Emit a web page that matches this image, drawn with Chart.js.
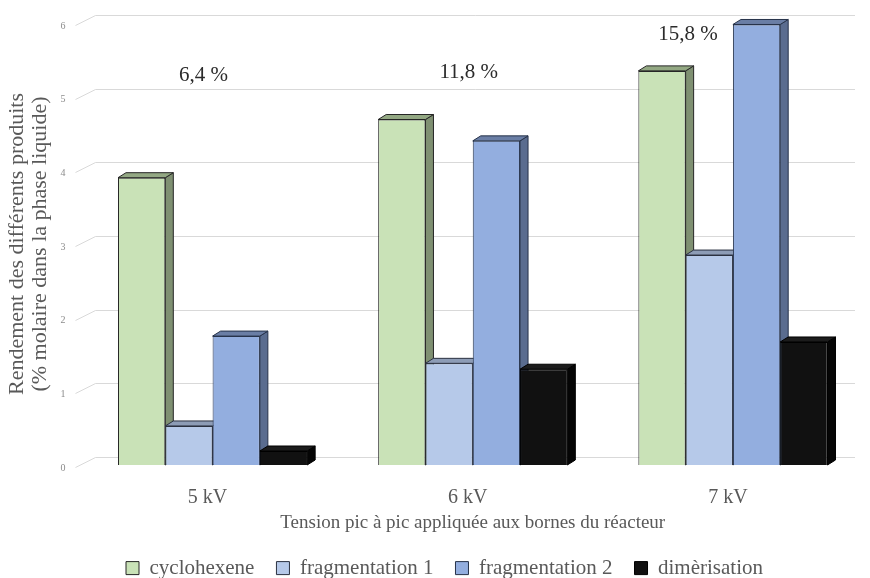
<!DOCTYPE html>
<html>
<head>
<meta charset="utf-8">
<script src="https://cdn.jsdelivr.net/npm/chart.js@4.4.1/dist/chart.umd.min.js"></script>
<style>
    html, body { margin: 0; padding: 0; background: #ffffff; }
    canvas { display: block; }
</style>
</head>
<body>
<canvas id="chartYield" width="870" height="578"></canvas>
<script>
// Yields per peak-to-peak voltage
const categories = ['5 kV', '6 kV', '7 kV'];
const cyclohexene = [3.9, 4.69, 5.35];
const fragmentation1 = [0.53, 1.38, 2.85];
const fragmentation2 = [1.75, 4.4, 5.98];
const dimerisation = [0.19, 1.3, 1.67];
// Total conversion written above each group
const conversionLabels = ['6,4 %', '11,8 %', '15,8 %'];

// Where the conversion labels sit (x shift in px, height in axis units)
const conversionPlacement = [
    { dx: -9, v: 5.29 },
    { dx: -4, v: 5.33 },
    { dx: -45, v: 5.84 },
];

const SERIF = '"Liberation Serif", "DejaVu Serif", serif';
const GREY = '#595959';

// Depth of the extruded columns
const DEPTH_X = 8;
const DEPTH_Y = -5;

const seriesStyles = [
    { label: 'cyclohexene', data: cyclohexene, front: '#c9e2b7', side: '#7f9072', top: '#93a883', border: '#262626' },
    { label: 'fragmentation 1', data: fragmentation1, front: '#b6c9e9', side: '#7d8ba3', top: '#8d9cb6', border: '#2b3140' },
    { label: 'fragmentation 2', data: fragmentation2, front: '#93aedf', side: '#5a6c8f', top: '#6a7ea5', border: '#27334a' },
    { label: 'dimèrisation', data: dimerisation, front: '#111111', side: '#050505', top: '#1c1c1c', border: '#000000' },
];

// Back wall gridlines, with the short slanted stub towards the tick labels
const backWall = {
    id: 'backWall',
    beforeDatasetsDraw(chart) {
        const { ctx, chartArea } = chart;
        const yScale = chart.scales.y;
        ctx.save();
        ctx.strokeStyle = '#d9d9d9';
        ctx.lineWidth = 1;
        for (let v = 0; v <= 6; v++) {
            const py = Math.round(yScale.getPixelForValue(v)) + 0.5;
            ctx.beginPath();
            ctx.moveTo(chartArea.left - 7, py + 2);
            ctx.lineTo(chartArea.left + 13, py - 8);
            ctx.lineTo(chartArea.right - 8, py - 8);
            ctx.stroke();
        }
        ctx.restore();
    },
};

// Side and top faces of each column, drawn before the fronts so the
// next column's front face hides the part behind it
const columnDepth = {
    id: 'columnDepth',
    beforeDatasetsDraw(chart) {
        const { ctx } = chart;
        const n = chart.data.labels.length;
        ctx.save();
        ctx.lineWidth = 1;
        ctx.lineJoin = 'round';
        for (let i = 0; i < n; i++) {
            chart.data.datasets.forEach((ds, d) => {
                const bar = chart.getDatasetMeta(d).data[i];
                if (!bar) return;
                const { x, y, base, width } = bar.getProps(['x', 'y', 'base', 'width'], true);
                const l = x - width / 2;
                const r = x + width / 2;
                const st = seriesStyles[d];
                ctx.strokeStyle = st.border;

                ctx.beginPath();
                ctx.moveTo(r, y);
                ctx.lineTo(r + DEPTH_X, y + DEPTH_Y);
                ctx.lineTo(r + DEPTH_X, base + DEPTH_Y);
                ctx.lineTo(r, base);
                ctx.closePath();
                ctx.fillStyle = st.side;
                ctx.fill();
                ctx.stroke();

                ctx.beginPath();
                ctx.moveTo(l, y);
                ctx.lineTo(l + DEPTH_X, y + DEPTH_Y);
                ctx.lineTo(r + DEPTH_X, y + DEPTH_Y);
                ctx.lineTo(r, y);
                ctx.closePath();
                ctx.fillStyle = st.top;
                ctx.fill();
                ctx.stroke();
            });
        }
        ctx.restore();
    },
};

const conversionText = {
    id: 'conversionText',
    afterDatasetsDraw(chart) {
        const { ctx } = chart;
        const xScale = chart.scales.x;
        const yScale = chart.scales.y;
        ctx.save();
        ctx.font = '21px ' + SERIF;
        ctx.fillStyle = '#2b2b2b';
        ctx.textAlign = 'center';
        ctx.textBaseline = 'middle';
        conversionLabels.forEach((txt, i) => {
            const p = conversionPlacement[i];
            ctx.fillText(txt, xScale.getPixelForValue(i) + p.dx, yScale.getPixelForValue(p.v));
        });
        ctx.restore();
    },
};

new Chart(document.getElementById('chartYield'), {
    type: 'bar',
    data: {
        labels: categories,
        datasets: seriesStyles.map((st) => ({
            label: st.label,
            data: st.data,
            backgroundColor: st.front,
            borderColor: st.border,
            borderWidth: 1,
            categoryPercentage: 0.727,
            barPercentage: 1,
        })),
    },
    plugins: [backWall, columnDepth, conversionText],
    options: {
        responsive: false,
        animation: false,
        layout: { padding: { left: 26, right: 7, top: 0, bottom: -10.6 } },
        scales: {
            x: {
                grid: { display: false, drawTicks: false },
                border: { display: false },
                ticks: {
                    color: GREY,
                    font: { family: SERIF, size: 20 },
                    padding: 21,
                    labelOffset: -5,
                },
                title: {
                    display: true,
                    text: 'Tension pic à pic appliquée aux bornes du réacteur',
                    color: GREY,
                    font: { family: SERIF, size: 19, lineHeight: 1 },
                    padding: { top: 0, bottom: 3 },
                },
                afterFit(scale) {
                    scale.height = 70.6;
                },
            },
            y: {
                min: 0,
                max: 6,
                grid: { display: false, drawTicks: false },
                border: { display: false },
                ticks: {
                    stepSize: 1,
                    color: '#8c8c8c',
                    font: { family: SERIF, size: 10 },
                    padding: 17,
                    labelOffset: 3,
                },
                title: {
                    display: true,
                    text: ['Rendement des différents produits', '(% molaire dans la phase liquide)'],
                    color: GREY,
                    font: { family: SERIF, size: 22, lineHeight: 1.05 },
                    padding: { top: -20, bottom: 0 },
                },
                afterFit(scale) {
                    scale.width = 56.5;
                },
            },
        },
        plugins: {
            tooltip: { enabled: false },
            legend: {
                position: 'bottom',
                labels: {
                    color: GREY,
                    font: { family: SERIF, size: 21 },
                    boxWidth: 13,
                    boxHeight: 13,
                    padding: 22,
                },
            },
        },
    },
});
</script>
</body>
</html>
